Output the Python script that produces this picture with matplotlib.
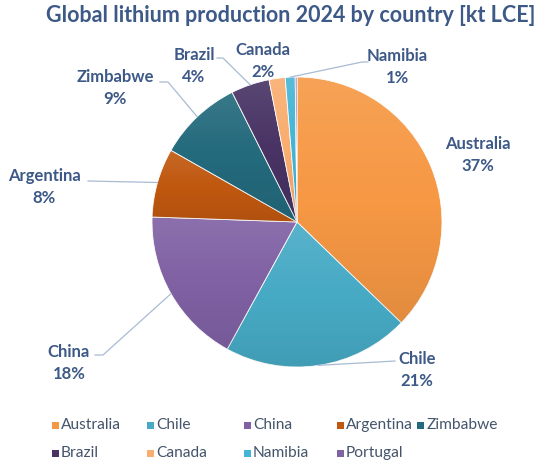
import matplotlib
matplotlib.use("Agg")
import matplotlib.pyplot as plt
import numpy as np
from matplotlib.patches import Rectangle

# datos (participacion en %)
paises = ["Australia", "Chile", "China", "Argentina", "Zimbabwe",
          "Brazil", "Canada", "Namibia", "Portugal"]
valores = [37.3, 20.8, 17.6, 7.7, 9.4, 4.3, 1.8, 1.1, 0.2]
colores = ["#F69844", "#47AAC5", "#8061A4", "#C05810", "#236A7C",
           "#483364", "#F9AD6F", "#44B5D5", "#8064A2"]

titulo = "Global lithium production 2024 by country [kt LCE]"
col_texto = "#3D5987"
col_linea = "#A9BBD3"
fuente = "Lato"

W, H = 550, 470
cx, cy, R = 297, 222, 145  # centro y radio del pie en pixeles

fig = plt.figure(figsize=(5.5, 4.7), dpi=100)
ax = fig.add_axes([(cx - R) / W, (H - cy - R) / H, 2 * R / W, 2 * R / H])

wedges, _ = ax.pie(valores, colors=colores, startangle=90, counterclock=False,
                   radius=1, wedgeprops=dict(edgecolor="white", linewidth=0.6))

# degradado suave dentro de cada porcion (mas claro arriba)
grad = np.zeros((64, 1, 4))
t = np.linspace(0, 1, 64)
grad[:, 0, :3] = np.where(t[:, None] < 0.5, 1.0, 0.0)
grad[:, 0, 3] = np.where(t < 0.5, 0.10 * (1 - 2 * t), 0.08 * (2 * t - 1))
for w in wedges:
    bb = w.get_path().get_extents(w.get_patch_transform())
    im = ax.imshow(grad, extent=[bb.x0, bb.x1, bb.y0, bb.y1], aspect="auto",
                   interpolation="bilinear", zorder=w.get_zorder() + 0.1)
    im.set_clip_path(w)

ax.set_xlim(-1, 1)
ax.set_ylim(-1, 1)
ax.set_aspect("equal")
ax.axis("off")

def px(x, y):
    # pixel de la imagen -> coordenadas del eje
    return (x - cx) / R, (cy - y) / R

# posicion de etiquetas (centro del texto) y codo de la linea guia
etiquetas = {
    "Australia": ((478, 155), None),
    "Chile": ((417, 370), [(395, 361)]),
    "China": ((69, 363), [(103, 355), (95, 355)]),
    "Argentina": ((44, 187), [(88, 181)]),
    "Zimbabwe": ((115, 88), [(168, 82), (160, 82)]),
    "Brazil": ((194, 66), [(223, 58), (217, 58)]),
    "Canada": ((263, 61), None),
    "Namibia": ((397, 67), [(362, 62), (368, 62)]),
}

total = sum(valores)
for w, pais, v in zip(wedges, paises, valores):
    if pais not in etiquetas:
        continue
    pos, codo = etiquetas[pais]
    pct = round(v / total * 100)
    tx, ty = px(*pos)
    ax.text(tx, ty, f"{pais}\n{pct}%", ha="center", va="center",
            fontsize=12, fontweight="bold", color=col_texto, family=fuente,
            linespacing=1.4)
    if codo:
        ang = np.deg2rad((w.theta1 + w.theta2) / 2)
        xs = [np.cos(ang)] + [px(*p)[0] for p in codo]
        ys = [np.sin(ang)] + [px(*p)[1] for p in codo]
        ax.plot(xs, ys, color=col_linea, lw=0.9, clip_on=False)

fig.text(291 / W, 1 - 16 / H, titulo, ha="center", va="center",
         fontsize=15.5, fontweight="bold", color=col_texto, family=fuente)

# leyenda manual en dos filas
cols_x = [55, 150, 247, 340, 421]
filas_y = [425, 453]
for i, (pais, c) in enumerate(zip(paises, colores)):
    x = cols_x[i % 5]
    y = filas_y[i // 5]
    fig.add_artist(Rectangle(((x - 3.5) / W, 1 - (y + 3.5) / H), 7 / W, 7 / H,
                             transform=fig.transFigure, color=c, lw=0))
    fig.text((x + 6) / W, 1 - y / H, pais, ha="left", va="center",
             fontsize=11.2, color="#44546A", family=fuente)

fig.savefig("out.png", dpi=100)
